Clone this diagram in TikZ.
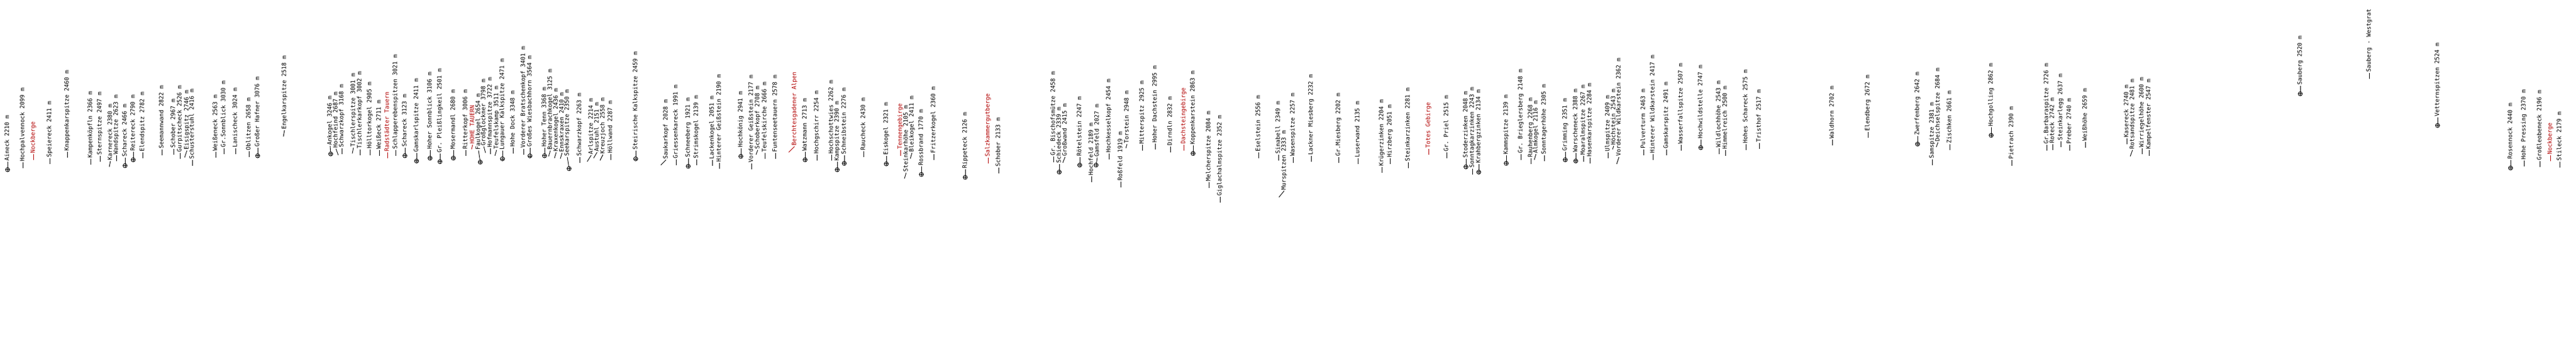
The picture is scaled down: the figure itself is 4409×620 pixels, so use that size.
\documentclass[tikz,border=0pt]{standalone}
\usepackage{fontspec}
\setmonofont{DejaVu Sans Mono}
\definecolor{lred}{RGB}{178,0,0}
\tikzset{
  lbl/.style={rotate=90, anchor=east, inner sep=0pt, font=\ttfamily\fontsize{10}{10}\selectfont, text height=7pt, text depth=2pt},
  lead/.style={line width=0.9pt},
  peakmark/.style={circle, draw, line width=0.9pt, minimum size=7pt, inner sep=0pt,
    path picture={\draw[line width=0.8pt] (path picture bounding box.north) -- (path picture bounding box.south)
      (path picture bounding box.west) -- (path picture bounding box.east);}}
}
\newcounter{pk}
\newcommand\pkN[4]{\stepcounter{pk}\node[lbl,text=#1] (n\thepk) at (#2,-#3) {#4};}
\newcommand\pk[4][black]{\pkN{#1}{#2}{#3}{#4}%
  \path (n\thepk.west) ++(0,-11) coordinate (e\thepk);
  \draw[lead,#1] (n\thepk.west) ++(0,-1.5) -- (e\thepk);}
\newcommand\pkm[3]{\pkN{black}{#1}{#2}{#3}%
  \path (n\thepk.west) ++(0,-15) node[peakmark] (m\thepk) {};
  \draw[lead] (n\thepk.west) ++(0,-1.5) -- (m\thepk.north);}
\newcommand\pks[6][black]{\pkN{#1}{#2}{#3}{#4}%
  \path (n\thepk.west) ++(#5,-#6) coordinate (e\thepk);
  \draw[lead,#1] (n\thepk.west) ++(0,-1) -- (e\thepk);}
\newcommand\pksm[5]{\pkN{black}{#1}{#2}{#3}%
  \path (n\thepk.west) ++(#4,-#5) node[peakmark] (m\thepk) {};
  \draw[lead] (n\thepk.west) ++(0,-1) -- (m\thepk);}
\begin{document}
\begin{tikzpicture}[x=1pt,y=1pt]
\path[use as bounding box, fill=white] (0,0) rectangle (4409,-620);
% zoom 1
\pkm{13}{197}{Aineck 2210 m}
\pk{39}{150}{Hochpalvennock 2099 m}
\pk[lred]{57}{208}{Nockberge}
\pk{85}{173}{Speiereck 2411 m}
\pk{115}{120}{Knappenkarspitze 2460 m}
\pk{155}{156}{Kampenköpfln 2366 m}
\pk{171}{157}{Sternspitze 2497 m}
\pks{189}{178}{Karnereck 2380 m}{-2}{11}
\pk{199}{162}{Wandspitze 2623 m}
\pkm{214}{178}{Schareck 2466 m}
\pkm{228}{162}{Reitereck 2790 m}
\pk{244}{157}{Elendspitz 2782 m}
\pk{277}{146}{Seemannwand 2822 m}
\pk{297}{169}{Schober 2967 m}
\pk{308}{146}{Gurpitscheck 2526 m}
\pks{320}{154}{Eisigspitz 2746 m}{-4}{13}
\pk{329}{152}{Schusterstuhl 2416 m}
\pk{369}{162}{Weißeneck 2563 m}
% zoom 2
\pk{383}{138}{Gr.Sonnblick 3030 m}
\pk{403}{150}{Lanischeck 3024 m}
\pk{426}{167}{Oblitzen 2658 m}
\pkm{441}{131}{Großer Hafner 3076 m}
\pks{487}{95}{Engelkarspitze 2518 m}{-2}{12}
\pksm{565}{164}{Ankogel 3246 m}{1}{15}
\pks{575}{157}{Hochfeind 2687 m}{4}{12}
\pk{585}{144}{Schwarzkopf 3168 m}
\pks{605}{125}{Tischlerspitze 3001 m}{-2}{11}
\pk{616}{122}{Tischlerkarkopf 3002 m}
\pk{633}{140}{Hölltorkogel 2905 m}
\pk{649}{171}{Weißeck 2711 m}
\pk[lred]{663}{157}{Radstädter Tauern}
\pk{677}{93}{Schlapperebenspitzen 3021 m}
\pkm{693}{161}{Schareck 3123 m}
\pkm{713}{134}{Gamskarlspitze 2411 m}
\pkm{736}{123}{Hoher Sonnblick 3106 m}
% zoom 3
\pkm{753}{117}{Gr. Pleißlingkeil 2501 m}
\pkm{776}{153}{Mosermandl 2680 m}
\pk{797}{153}{Ritterkopf 3006 m}
\pks[lred]{809}{180}{HOHE TAUERN}{-2}{9}
\pksm{819}{160}{Faulkogel 2654 m}{3}{21}
\pks{828}{135}{Großglockner 3798 m}{3}{12}
\pk{839}{132}{Hofmannspitze 3722 m}
\pks{850}{147}{Teufelskamp 3511 m}{-3}{11}
\pkm{860}{100}{Lungauer Kalkspitze 2471 m}
\pk{878}{155}{Hohe Dock 3348 m}
\pk{896}{79}{Vorderer Bratschenkopf 3401 m}
\pkm{907}{95}{Großes Wiesbachhorn 3564 m}
\pkm{932}{149}{Hoher Tenn 3368 m}
\pks{942}{118}{Bauernbrachkogel 3125 m}{-3}{11}
\pks{952}{151}{Kraxenkogel 2436 m}{-3}{11}
\pks{962}{158}{Ennskraxen 2410 m}{-3}{11}
\pksm{971}{153}{Seekarspitze 2350 m}{3}{21}
\pk{992}{159}{Schwarzkopf 2263 m}
\pks{1012}{168}{Arlspitze 2214 m}{-7}{12}
\pks{1022}{175}{Austuhl 2151 m}{-6}{11}
\pks{1032}{167}{Kreuzjoch 2558 m}{-5}{11}
\pk{1045}{172}{Höllwand 2287 m}
\pkm{1088}{88}{Steirische Kalkspitze 2459 m}
% zoom 4
\pks{1140}{170}{Saukarkopf 2028 m}{-9}{10}
\pk{1157}{145}{Griessenkareck 1991 m}
\pkm{1178}{167}{Schneeberg 1921 m}
\pk{1192}{163}{Strimskogel 2139 m}
\pk{1219}{164}{Lackenkogel 2051 m}
\pk{1231}{127}{Hinterer Geißstein 2190 m}
\pkm{1268}{156}{Hochkönig 2941 m}
\pk{1286}{128}{Vorderer Geißstein 2177 m}
\pks{1297}{147}{Schoberkopf 2708 m}{-3}{9}
\pk{1309}{140}{Teufelskirche 2666 m}
\pk{1327}{128}{Funtenseetauern 2578 m}
\pks[lred]{1360}{123}{Berchtesgadener Alpen}{-10}{11}
\pkm{1378}{168}{Watzmann 2713 m}
\pk{1398}{155}{Hochgschirr 2254 m}
\pk{1423}{137}{Hochschottwies 2262 m}
\pkm{1433}{173}{Kampspitze 2390 m}
\pkm{1445}{150}{Schneibstein 2276 m}
\pk{1478}{167}{Raucheck 2430 m}
% zoom 5
\pkm{1517}{175}{Eiskogel 2321 m}
\pk[lred]{1541}{177}{Tennengebirge}
\pks{1551}{180}{Steinkarhöhe 2105 m}{-3}{11}
\pks{1561}{164}{Bleikogel 2411 m}{-3}{11}
\pkm{1577}{187}{Rossbrand 1770 m}
\pk{1598}{148}{Fritzerkogel 2360 m}
\pkm{1652}{192}{Rippeteck 2126 m}
\pk[lred]{1691}{160}{Salzkammergutberge}
\pk{1709}{201}{Schober 2133 m}
\pk{1803}{122}{Gr. Bischofsmütze 2458 m}
\pkm{1813}{183}{Schiedeck 2339 m}
\pks{1823}{177}{Großwand 2415 m}{-4}{11}
\pkm{1848}{165}{Rötelstein 2247 m}
% zoom 6
\pk{1868}{210}{Hochfeld 2189 m}
\pksm{1878}{178}{Gamsfeld 2027 m}{-2}{14}
\pk{1898}{135}{Hochkesselkopf 2454 m}
\pk{1918}{225}{Roßfeld 1919 m}
\pks{1929}{155}{Torstein 2948 m}{-2}{8}
\pk{1955}{138}{Mitterspitz 2925 m}
\pk{1977}{112}{Hoher Dachstein 2995 m}
\pk{2003}{165}{Dirndln 2832 m}
\pk[lred]{2026}{150}{Dachsteingebirge}
\pkm{2042}{121}{Koppenkarstein 2863 m}
\pk{2069}{190}{Melcherspitze 2084 m}
\pk{2088}{197}{Giglachalmspitze 2352 m}
\pk{2154}{163}{Eselstein 2556 m}
\pk{2188}{173}{Sinabell 2349 m}
\pks{2198}{223}{Murspitzen 2333 m}{-9}{12}
\pk{2213}{159}{Wasenspitze 2257 m}
% zoom 7
\pk{2244}{127}{Lackner Miesberg 2232 m}
\pk{2291}{159}{Gr.Miesberg 2202 m}
\pk{2324}{173}{Luserwand 2135 m}
\pk{2365}{170}{Krügerzinken 2204 m}
\pk{2379}{179}{Hirzberg 2051 m}
\pk{2410}{150}{Steinkarzinken 2281 m}
\pk[lred]{2445}{175}{Totes Gebirge}
\pk{2476}{163}{Gr. Priel 2515 m}
\pkm{2509}{156}{Stoderzinken 2048 m}
\pk{2520}{149}{Sonntagkarzinken 2243 m}
\pkm{2531}{153}{Krahbergzinken 2134 m}
\pkm{2578}{162}{Kammspitze 2139 m}
% zoom 8
\pk{2603}{118}{Gr. Brieglersberg 2148 m}
\pk{2620}{167}{Rauhenberg 2268 m}
\pks{2629}{172}{Almkogel 2116 m}{-3}{11}
\pk{2643}{144}{Sonntagerhöhe 2305 m}
\pkm{2679}{168}{Grimming 2351 m}
\pkm{2697}{152}{Warscheneck 2388 m}
\pk{2710}{145}{Moaralmspitze 2267 m}
\pk{2721}{142}{Hasenkarspitze 2284 m}
\pk{2752}{163}{Ulmspitze 2409 m}
\pks{2762}{152}{Höchstein 2543 m}{-2}{7}
\pks{2771}{99}{Vorderer Wildkarstein 2362 m}{-4}{13}
\pk{2813}{152}{Pulverturm 2463 m}
\pk{2829}{94}{Hinterer Wildkarstein 2417 m}
\pk{2852}{140}{Gamskarspitz 2491 m}
\pk{2877}{108}{Wasserfallspitze 2507 m}
\pkm{2911}{111}{Hochwildstelle 2747 m}
\pk{2942}{138}{Wildlochhöhe 2543 m}
\pk{2953}{147}{Himmelreich 2500 m}
% zoom 9
\pk{2988}{119}{Hohes Schareck 2575 m}
\pk{3011}{153}{Tristhof 2517 m}
\pk{3136}{147}{Waldhorn 2702 m}
\pk{3197}{128}{Elendberg 2672 m}
\pkm{3282}{123}{Zwerfenberg 2642 m}
\pk{3307}{175}{Samspitze 2381 m}
\pks{3317}{116}{Deichselspitze 2684 m}{-3}{9}
% zoom 10
\pk{3337}{155}{Zischken 2661 m}
\pkm{3408}{108}{Hochgolling 2862 m}
\pk{3443}{182}{Pietrach 2390 m}
\pk{3503}{108}{Gr.Barbaraspitze 2726 m}
\pk{3513}{167}{Roteck 2742 m}
\pk{3527}{126}{Steinkarlegg 2637 m}
\pk{3542}{168}{Preber 2740 m}
\pk{3569}{151}{Weißhöhe 2659 m}
\pk{3640}{145}{Kasereck 2740 m}
\pks{3650}{135}{Rotsandspitze 2481 m}{-4}{12}
\pk{3666}{132}{Wirriegelhöhe 2600 m}
\pk{3678}{135}{Kampelfenster 2547 m}
% zoom 11/12
\pkm{3937}{61}{Sauberg 2520 m}
\pk{4055}{15}{Sauberg - Westgrat}
\pkm{4172}{73}{Vetternspitzen 2524 m}
\pkm{4297}{176}{Rosennock 2440 m}
\pk{4320}{153}{Hohe Pressing 2370 m}
\pk{4347}{154}{Großleobeneck 2196 m}
\pk[lred]{4365}{210}{Nockberge}
\pk{4381}{191}{Stileck 2179 m}
\end{tikzpicture}
\end{document}
